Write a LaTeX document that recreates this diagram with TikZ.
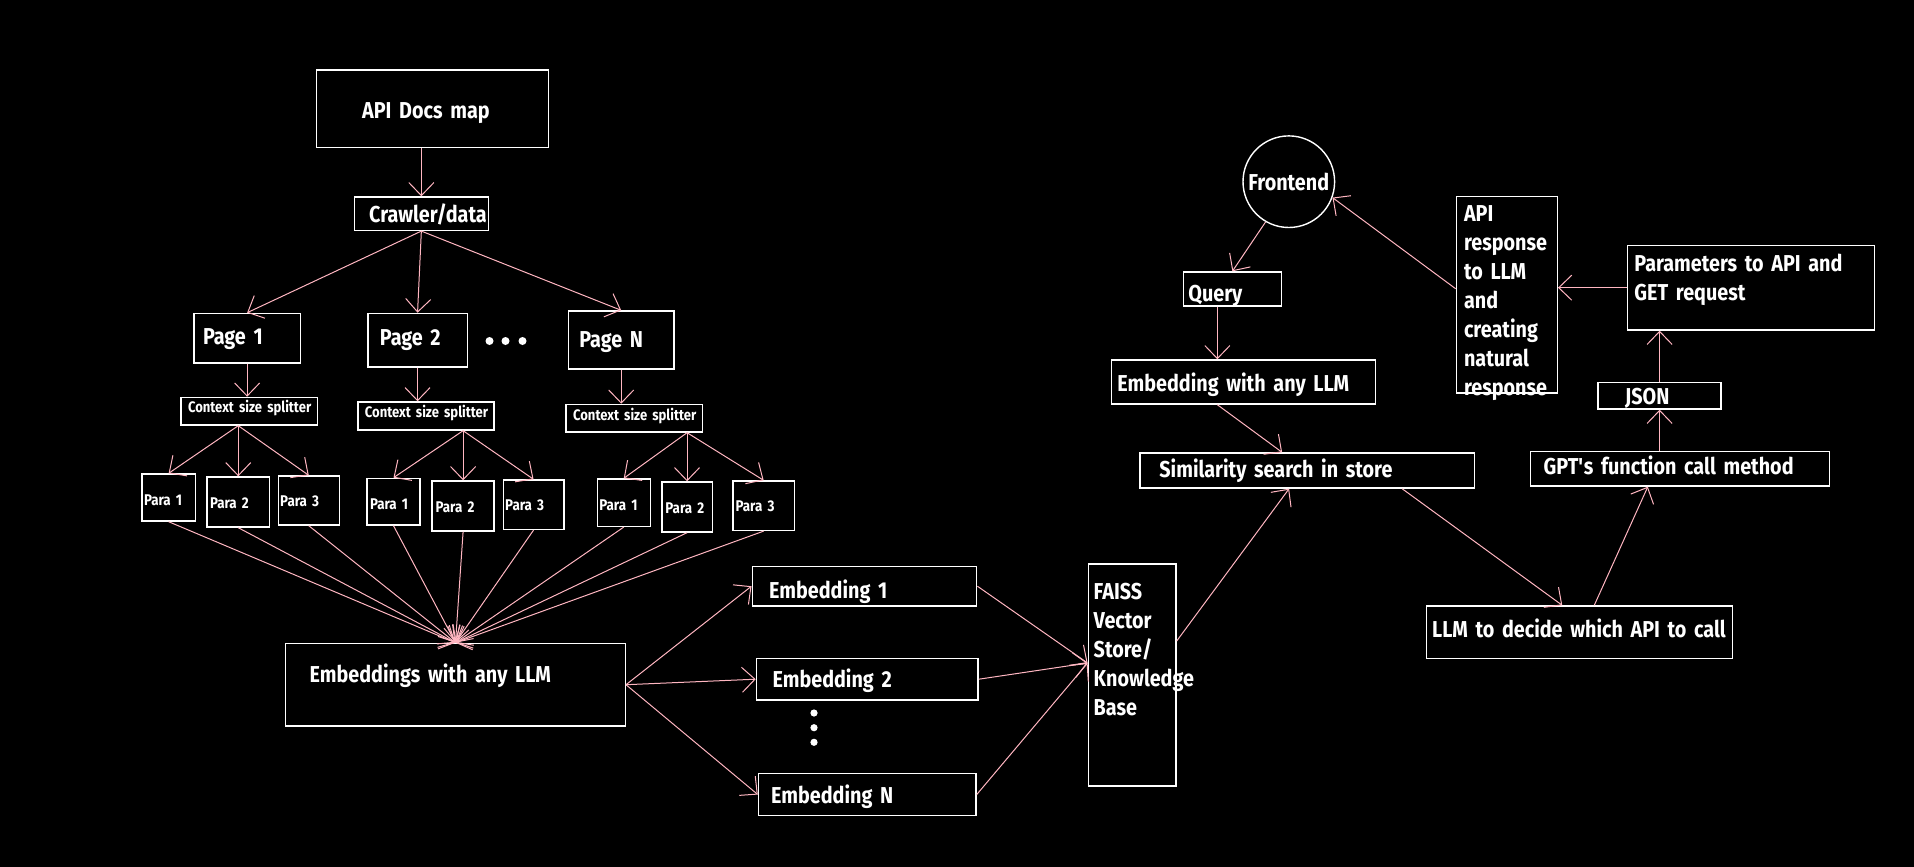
\documentclass[tikz,border=0pt]{standalone}
\usepackage{fontspec}
\setmainfont{Fira Sans}[FakeStretch=0.86]
\usetikzlibrary{arrows.meta}
\definecolor{edgepink}{RGB}{255,182,193}
\newcommand{\bigtext}{\fontsize{23}{29}\selectfont\bfseries\hyphenpenalty=10000 }
\begin{document}
\begin{tikzpicture}
        [x=1pt, y=-1pt,
         box_style/.style n args={4}{draw=white, line width=1.4pt, anchor=north west, inner ysep=0pt,
            inner xsep=#3pt, text width={(#1-2*#3)*1pt}, text height=#4pt, text depth={(#2-#4)*1pt},
            align=left, text=white, font=\bigtext},
         splitter_style/.style={font=\fontsize{15.2}{20}\selectfont\bfseries},
         para_style/.style={font=\fontsize{15.5}{18}\selectfont\bfseries},
         edge_style/.style={draw=edgepink, line width=1pt, -{Straight Barb[length=13pt,width=25pt]}}]
            \useasboundingbox (0,0) rectangle (1914,867);
            \fill[black] (0,0) rectangle (1914,867);
            % ingestion side
            \node[box_style={231.5}{77.4}{45.5}{48.2}] (docs) at (316,69.3) {API Docs map};
            \node[box_style={134.3}{33.4}{15}{25}] (crawler) at (353.5,196.3) {Crawler/data};
            \node[box_style={106.3}{49.6}{9}{30.8}] (page1) at (193.3,312.7) {Page 1};
            \node[box_style={99.3}{53.6}{12}{32}] (page2) at (367.2,312.7) {Page 2};
            \node[box_style={105.8}{58}{11}{36.4}] (pageN) at (567.6,310.3) {Page N};
            \fill[white] (489.5,341) circle (4pt) (505.5,341) circle (4pt) (522.5,341) circle (4pt);
            \node[box_style={136.2}{27.6}{7}{15.3}, splitter_style] (split1) at (180.3,396.7) {\mbox{Context size splitter}};
            \node[box_style={136.2}{28}{7}{15.7}, splitter_style] (split2) at (357.2,401.3) {\mbox{Context size splitter}};
            \node[box_style={136.2}{27.6}{7}{15.6}, splitter_style] (split3) at (565.4,403.7) {\mbox{Context size splitter}};
            \node[box_style={53.3}{47}{2}{31.7}, para_style] (para11) at (141.3,473.3) {Para 1};
            \node[box_style={62.5}{50}{3}{31}, para_style] (para12) at (206.3,476.3) {Para 2};
            \node[box_style={61.1}{49}{2}{30.7}, para_style] (para13) at (277.5,475.3) {Para 3};
            \node[box_style={53}{46.6}{3}{31}, para_style] (para21) at (366.3,477.7) {Para 1};
            \node[box_style={62}{50}{3.5}{31.4}, para_style] (para22) at (431.4,480.3) {Para 2};
            \node[box_style={60.7}{49.4}{2}{30.7}, para_style] (para23) at (502.5,479.3) {Para 3};
            \node[box_style={52.9}{47.4}{2}{31.4}, para_style] (para31) at (596.6,478.3) {Para 1};
            \node[box_style={50.3}{50}{3.5}{31.4}, para_style] (para32) at (661.2,481.3) {Para 2};
            \node[box_style={61.1}{49.4}{2.5}{30.4}, para_style] (para33) at (732.4,480.3) {Para 3};
            \node[box_style={339.6}{82.6}{24}{38.6}] (embeds) at (285,642.7) {Embeddings with any LLM};
            \node[box_style={224.5}{39.6}{17}{32.3}] (emb1) at (751.5,565.7) {Embedding 1};
            \node[box_style={221.7}{41.6}{16.2}{28.6}] (emb2) at (755.7,657.7) {Embedding 2};
            \node[box_style={217.5}{42.3}{12.7}{29.6}] (embN) at (757.8,772.7) {Embedding N};
            \fill[white] (814,713) circle (3.6pt) (814,727.7) circle (3.6pt) (814,742.3) circle (3.6pt);
            \node[box_style={87.7}{222}{5.4}{35.4}] (faiss) at (1087.6,563.3) {FAISS\\Vector\\Store/\\Knowledge\\Base};
            % query side
            \node[draw=white, line width=1.4pt, circle, minimum size=91.6pt, inner sep=0pt, text=white, font=\bigtext] (frontend) at (1288.8,181.7) {Frontend};
            \node[box_style={97.9}{34}{5}{29.5}] (query) at (1182.7,271.3) {Query};
            \node[box_style={263.8}{44}{6}{31.5}] (qembed) at (1110.7,359.3) {Embedding with any LLM};
            \node[box_style={334.2}{35}{19.4}{24.7}] (search) at (1139.3,452.3) {Similarity search in store};
            \node[box_style={101}{196.6}{7.7}{25.1}] (apiresp) at (1455.6,195.7) {API\\response\\to LLM\\and\\creating\\natural\\response};
            \node[box_style={247}{84.6}{7.2}{26.1}] (params) at (1626.5,244.7) {Parameters to API and\\GET request};
            \node[box_style={123}{26.6}{27}{21.8}] (json) at (1597.4,381.7) {JSON};
            \node[box_style={299}{34.6}{13.3}{23.5}] (gptcall) at (1529.6,450.7) {GPT\textquotesingle s function call method};
            \node[box_style={306.1}{52.4}{6}{31.2}] (decide) at (1425.5,605.3) {LLM to decide which API to call};
            % connectors
            \coordinate (fan1) at (para12.north |- split1.south);
            \coordinate (fan2) at (para22.north |- split2.south);
            \coordinate (fan3) at (para32.north |- split3.south);
            \draw[edge_style] (docs.south -| crawler.north) -- (crawler.north);
            \draw[edge_style] (crawler.south) -- (page1.north);
            \draw[edge_style] (crawler.south) -- (page2.north);
            \draw[edge_style] (crawler.south) -- (pageN.north);
            \draw[edge_style] (page1.south) -- (page1.south |- split1.north);
            \draw[edge_style] (page2.south) -- (page2.south |- split2.north);
            \draw[edge_style] (pageN.south) -- (pageN.south |- split3.north);
            \draw[edge_style] (fan1) -- (para11.north);
            \draw[edge_style] (fan1) -- (para12.north);
            \draw[edge_style] (fan1) -- (para13.north);
            \draw[edge_style] (fan2) -- (para21.north);
            \draw[edge_style] (fan2) -- (para22.north);
            \draw[edge_style] (fan2) -- (para23.north);
            \draw[edge_style] (fan3) -- (para31.north);
            \draw[edge_style] (fan3) -- (para32.north);
            \draw[edge_style] (fan3) -- (para33.north);
            \draw[edge_style] (para11.south) -- (embeds.north);
            \draw[edge_style] (para12.south) -- (embeds.north);
            \draw[edge_style] (para13.south) -- (embeds.north);
            \draw[edge_style] (para21.south) -- (embeds.north);
            \draw[edge_style] (para22.south) -- (embeds.north);
            \draw[edge_style] (para23.south) -- (embeds.north);
            \draw[edge_style] (para31.south) -- (embeds.north);
            \draw[edge_style] (para32.south) -- (embeds.north);
            \draw[edge_style] (para33.south) -- (embeds.north);
            \draw[edge_style] (embeds.east) -- (emb1.west);
            \draw[edge_style] (embeds.east) -- (emb2.west);
            \draw[edge_style] (embeds.east) -- (embN.west);
            \draw[edge_style] (emb1.east) -- ([yshift=12pt]faiss.west);
            \draw[edge_style] (emb2.east) -- ([yshift=12pt]faiss.west);
            \draw[edge_style] (embN.east) -- ([yshift=12pt]faiss.west);
            \draw[edge_style] ([yshift=34pt]faiss.east) -- ([xshift=-18pt]search.south);
            \draw[edge_style] (frontend.-120) -- (query.north);
            \draw[edge_style] ([xshift=-15pt]query.south) -- ([xshift=-15pt]query.south |- qembed.north);
            \draw[edge_style] ([xshift=-26pt]qembed.south) -- ([xshift=-25pt]search.north);
            \draw[edge_style] ([xshift=95pt]search.south) -- ([xshift=-17pt]decide.north);
            \draw[edge_style] ([xshift=15pt]decide.north) -- ([xshift=-32pt]gptcall.south);
            \draw[edge_style] (json.south |- gptcall.north) -- (json.south);
            \draw[edge_style] (json.north) -- (json.north |- params.south);
            \draw[edge_style] (params.west) -- (apiresp.east |- params.west);
            \draw[edge_style] ([yshift=6pt]apiresp.west) -- (frontend.-20);
        \end{tikzpicture}
\end{document}
